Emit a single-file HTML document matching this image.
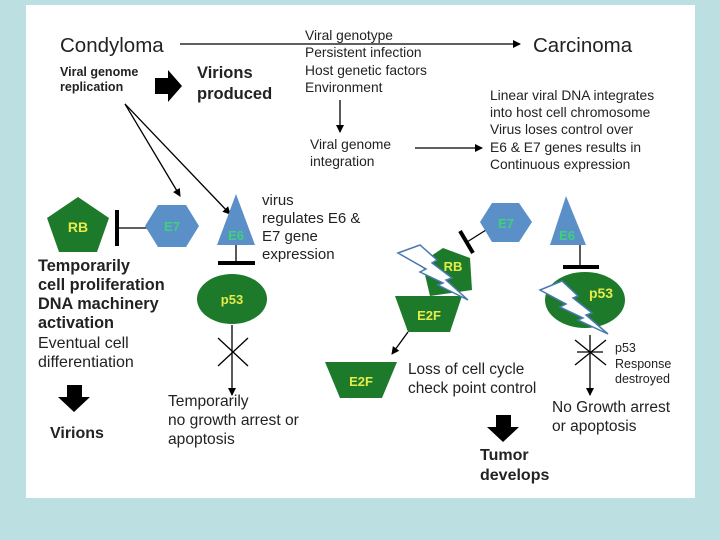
<!DOCTYPE html>
<html><head><meta charset="utf-8"><style>
html,body{margin:0;padding:0;background:#bcdfe2;}
svg{display:block;font-family:"Liberation Sans",Arial,sans-serif;}
</style></head><body>
<svg width="720" height="540" viewBox="0 0 720 540" xmlns="http://www.w3.org/2000/svg">
<defs>
<marker id="ah" markerWidth="8" markerHeight="8" refX="7" refY="4" orient="auto" markerUnits="userSpaceOnUse"><path d="M0,0 L8,4 L0,8 z" fill="#000"/></marker>
</defs>
<rect x="0" y="0" width="720" height="540" fill="#bcdfe2"/>
<rect x="26" y="5" width="669" height="493" fill="#fff"/>
<g fill="#222">
<text x="60" y="52" font-size="20.5">Condyloma</text>
<text x="533" y="52" font-size="20.5">Carcinoma</text>
<g font-size="13.8"><text x="305" y="40">Viral genotype</text><text x="305" y="57">Persistent infection</text><text x="305" y="75">Host genetic factors</text><text x="305" y="92">Environment</text></g>
<g font-size="12.5" font-weight="bold"><text x="60" y="76">Viral genome</text><text x="60" y="91">replication</text></g>
<g font-size="16.5" font-weight="bold"><text x="197" y="78">Virions</text><text x="197" y="99">produced</text></g>
<g font-size="13.8"><text x="490" y="100">Linear viral DNA integrates</text><text x="490" y="117">into host cell chromosome</text><text x="490" y="134">Virus loses control over</text><text x="490" y="152">E6 &amp; E7 genes results in</text><text x="490" y="169">Continuous expression</text></g>
<g font-size="13.8"><text x="310" y="149">Viral genome</text><text x="310" y="166">integration</text></g>
<g font-size="15"><text x="262" y="205">virus</text><text x="262" y="223">regulates E6 &amp;</text><text x="262" y="241">E7 gene</text><text x="262" y="259">expression</text></g>
<g font-size="16.3" font-weight="bold"><text x="38" y="271">Temporarily</text><text x="38" y="290">cell proliferation</text><text x="38" y="309">DNA machinery</text><text x="38" y="328">activation</text></g>
<g font-size="16"><text x="38" y="348">Eventual cell</text><text x="38" y="367">differentiation</text></g>
<text x="50" y="438" font-size="16" font-weight="bold">Virions</text>
<g font-size="15.6"><text x="168" y="406">Temporarily</text><text x="168" y="425">no growth arrest or</text><text x="168" y="444">apoptosis</text></g>
<g font-size="15.4"><text x="408" y="374">Loss of cell cycle</text><text x="408" y="393">check point control</text></g>
<g font-size="12.5"><text x="615" y="352">p53</text><text x="615" y="368">Response</text><text x="615" y="383">destroyed</text></g>
<g font-size="15.5"><text x="552" y="412">No Growth arrest</text><text x="552" y="431">or apoptosis</text></g>
<g font-size="16" font-weight="bold"><text x="480" y="460">Tumor</text><text x="480" y="480">develops</text></g>
</g>
<g stroke="#000" stroke-width="1.3" fill="none">
<line x1="180" y1="44" x2="520" y2="44" marker-end="url(#ah)"/>
<line x1="340" y1="100" x2="340" y2="132" marker-end="url(#ah)"/>
<line x1="415" y1="148" x2="482" y2="148" marker-end="url(#ah)"/>
<line x1="125" y1="104" x2="180" y2="196" marker-end="url(#ah)"/>
<line x1="125" y1="104" x2="230" y2="214" marker-end="url(#ah)"/>
<line x1="117" y1="228" x2="150" y2="228"/>
<line x1="236" y1="245" x2="236" y2="262"/>
<line x1="232" y1="325" x2="232" y2="395" marker-end="url(#ah)"/>
<line x1="218" y1="338" x2="248" y2="366"/><line x1="248" y1="338" x2="218" y2="366"/>
<line x1="486" y1="230" x2="467" y2="242"/>
<line x1="580" y1="245" x2="580" y2="265"/>
<line x1="408" y1="332" x2="392" y2="354" marker-end="url(#ah)"/>
<line x1="590" y1="335" x2="590" y2="395" marker-end="url(#ah)"/>
<line x1="575" y1="340" x2="606" y2="365"/><line x1="606" y1="340" x2="575" y2="365"/><line x1="577" y1="352" x2="603" y2="352"/>
</g>
<g stroke="#000" stroke-width="4">
<line x1="117" y1="210" x2="117" y2="246"/>
<line x1="218" y1="263" x2="255" y2="263"/>
<line x1="460" y1="231" x2="473" y2="253"/>
<line x1="563" y1="267" x2="599" y2="267"/>
</g>
<path d="M155,78 L168,78 L168,70 L182,86 L168,102 L168,94 L155,94 z" fill="#000"/>
<path d="M67,385 L82,385 L82,397 L90,397 L74,412 L58,397 L67,397 z" fill="#000"/>
<path d="M496,415 L511,415 L511,427 L519,427 L503,442 L487,427 L496,427 z" fill="#000"/>
<polygon points="78,197 109,218 97,252 59,252 47,218" fill="#1d7a2b"/>
<text x="78" y="232" font-size="14" font-weight="bold" fill="#e6ea4a" text-anchor="middle">RB</text>
<polygon points="158,205 186,205 199,226 186,247 158,247 145,226" fill="#5b8fc8"/>
<text x="172" y="231" font-size="13" font-weight="bold" fill="#3fd07a" text-anchor="middle">E7</text>
<polygon points="236,194 255,245 217,245" fill="#5b8fc8"/>
<text x="236" y="240" font-size="13" font-weight="bold" fill="#3fd07a" text-anchor="middle">E6</text>
<ellipse cx="232" cy="299" rx="35" ry="25" fill="#1d7a2b"/>
<text x="232" y="304" font-size="13" font-weight="bold" fill="#e6ea4a" text-anchor="middle">p53</text>
<polygon points="492,203 519,203 532,222 519,242 492,242 480,222" fill="#5b8fc8"/>
<text x="506" y="228" font-size="13" font-weight="bold" fill="#3fd07a" text-anchor="middle">E7</text>
<polygon points="566,196 586,245 550,245" fill="#5b8fc8"/>
<text x="567" y="240" font-size="13" font-weight="bold" fill="#3fd07a" text-anchor="middle">E6</text>
<polygon points="443,248 470,258 472,290 430,296 422,262" fill="#1d7a2b"/>
<text x="453" y="271" font-size="13" font-weight="bold" fill="#e6ea4a" text-anchor="middle">RB</text>
<polygon points="395,296 462,296 450,332 408,332" fill="#1d7a2b"/>
<text x="429" y="320" font-size="13" font-weight="bold" fill="#e6ea4a" text-anchor="middle">E2F</text>
<polygon points="325,362 397,362 382,398 340,398" fill="#1d7a2b"/>
<text x="361" y="386" font-size="13" font-weight="bold" fill="#e6ea4a" text-anchor="middle">E2F</text>
<ellipse cx="585" cy="300" rx="40" ry="28" fill="#1d7a2b"/>
<text x="601" y="298" font-size="14" font-weight="bold" fill="#e6ea4a" text-anchor="middle">p53</text>
<g fill="#fff" stroke="#4a78b0" stroke-width="1.5">
<polygon points="398,253 420,245 437,260 432,263 452,278 446,280 468,300 438,285 443,283 420,272 426,269"/>
<polygon points="540,290 562,281 578,296 573,298 592,313 586,315 608,334 578,320 583,318 560,307 566,304"/>
</g>
</svg>
</body></html>
